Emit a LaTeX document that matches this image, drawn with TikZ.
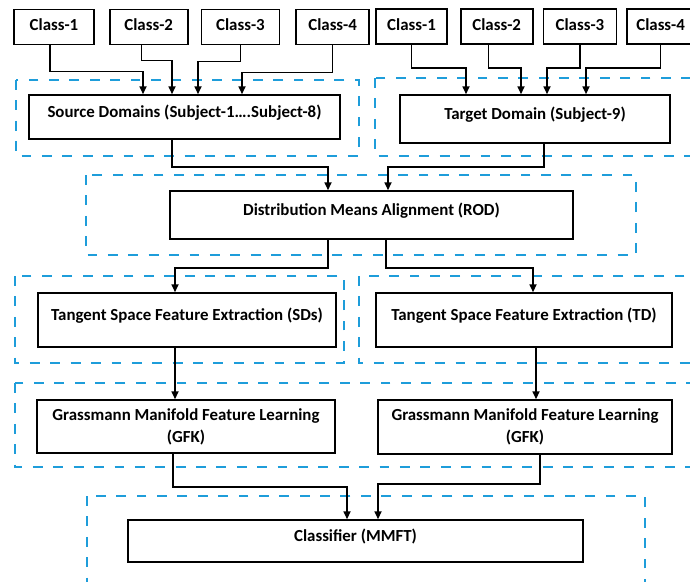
\documentclass[tikz,border=0pt]{standalone}
\usepackage{fontspec}
\setmainfont{Carlito}
\usetikzlibrary{arrows.meta, positioning, calc}
\definecolor{grpblue}{RGB}{30,157,218}

\begin{document}
\begin{tikzpicture}[x=0.025cm, y=-0.025cm,
  box/.style={rectangle, draw=black, line width=1.2pt, inner sep=0pt, align=center, font=\fontsize{12}{15.6}\selectfont\bfseries, text height=8.9pt, text depth=7.7pt},
  cbox/.style={box, minimum height=0.875cm, text height=8.3pt, text depth=3pt},
  gbox/.style={rectangle, draw=black, line width=1.2pt, inner sep=0pt, align=center, font=\fontsize{12}{15.6}\selectfont\bfseries},
  grp/.style={draw=grpblue, line width=2.1pt, dash pattern=on 7pt off 7.5pt},
  arr/.style={-{Triangle[length=5.5pt,width=5pt]}, line width=1.1pt}
]
\useasboundingbox (0,0) rectangle (690,581);
\clip (0,0) rectangle (690,581);
% dashed groups
\draw[grp] (16,80) rectangle (359,156);
\draw[grp] (375,78) rectangle (710,156);
\draw[grp] (86,175) rectangle (636,255);
\draw[grp] (15,276) rectangle (344,363);
\draw[grp] (359,276) rectangle (710,363);
\draw[grp] (15,383) rectangle (710,467);
\draw[grp] (87,496) rectangle (645,610);
% class boxes
\node[cbox, minimum width=2cm] (lc1) at (54,27) {Class-1};
\node[cbox, minimum width=1.95cm, right=0.35cm of lc1] (lc2) {Class-2};
\node[cbox, minimum width=1.95cm, right=0.3cm of lc2] (lc3) {Class-3};
\node[cbox, minimum width=1.825cm, right=0.375cm of lc3] (lc4) {Class-4};
\node[cbox, minimum width=1.775cm] (rc1) at (411.5,26.5) {Class-1};
\node[cbox, minimum width=1.8cm, right=0.3cm of rc1] (rc2) {Class-2};
\node[cbox, minimum width=1.825cm, right=0.225cm of rc2] (rc3) {Class-3};
\node[cbox, minimum width=1.675cm, right=0.225cm of rc3] (rc4) {Class-4};
% main boxes
\node[box, minimum width=7.775cm, minimum height=1.1cm] (src) at (184.5,117) {Source Domains (Subject-1….Subject-8)};
\node[box, minimum width=6.75cm, minimum height=1.2cm] (tgt) at (535,119) {Target Domain (Subject-9)};
\node[box, minimum width=10.075cm, minimum height=1.2cm] (rod) at (371.5,215) {Distribution Means Alignment (ROD)};
\node[box, minimum width=7.45cm, minimum height=1.35cm] (sds) at (187,320) {Tangent Space Feature Extraction (SDs)};
\node[box, minimum width=7.4cm, minimum height=1.35cm] (td) at (524,320) {Tangent Space Feature Extraction (TD)};
\node[gbox, minimum width=7.45cm, minimum height=1.325cm] (gfkl) at (186,426.5) {Grassmann Manifold Feature Learning\\(GFK)};
\node[gbox, minimum width=7.35cm, minimum height=1.35cm] (gfkr) at (525,427) {Grassmann Manifold Feature Learning\\(GFK)};
\node[box, minimum width=11.375cm, minimum height=1.05cm] (cls) at (355.5,541) {Classifier (MMFT)};
% classes to domains
\draw[arr] ($(lc1.south)+(-4,0)$) -- ++(0,26) -| ($(src.north)+(-41.5,0)$);
\draw[arr] ($(lc2.south)+(-7,0)$) -- ++(0,15) -| ($(src.north)+(-12.5,0)$);
\draw[arr] (lc3.south) -- ++(0,16) -| ($(src.north)+(13.5,0)$);
\draw[arr] (lc4.south) -- ++(0,27) -| ($(src.north)+(57.5,0)$);
\draw[arr] (rc1.south) -- ++(0,23) -| ($(tgt.north)+(-69,0)$);
\draw[arr] ($(rc2.south)+(-8,0)$) -- ++(0,23) -| ($(tgt.north)+(-14,0)$);
\draw[arr] (rc3.south) -- ++(0,23) -| ($(tgt.north)+(12,0)$);
\draw[arr] (rc4.south) -- ++(0,23) -| ($(tgt.north)+(51,0)$);
% domains to alignment
\draw[arr] ($(src.south)+(-12.5,0)$) -- ++(0,27) -| ($(rod.north)+(-43.5,0)$);
\draw[arr] ($(tgt.south)+(9,0)$) -- ++(0,23) -| ($(rod.north)+(16.5,0)$);
% alignment to tangent space
\draw[arr] ($(rod.south)+(-43.5,0)$) -- ++(0,28) -| ($(sds.north)+(-12,0)$);
\draw[arr] ($(rod.south)+(14.5,0)$) -- ++(0,28) -| ($(td.north)+(9,0)$);
% tangent space to GFK
\draw[arr] ($(sds.south)+(-12,0)$) -- ($(gfkl.north)+(-11,0)$);
\draw[arr] ($(td.south)+(12,0)$) -- ($(gfkr.north)+(11,0)$);
% GFK to classifier
\draw[arr] ($(gfkl.south)+(-13,0)$) -- ++(0,33) -| ($(cls.north)+(-8.5,0)$);
\draw[arr] ($(gfkr.south)+(15,0)$) -- ++(0,29) -| ($(cls.north)+(22.5,0)$);
\end{tikzpicture}
\end{document}
